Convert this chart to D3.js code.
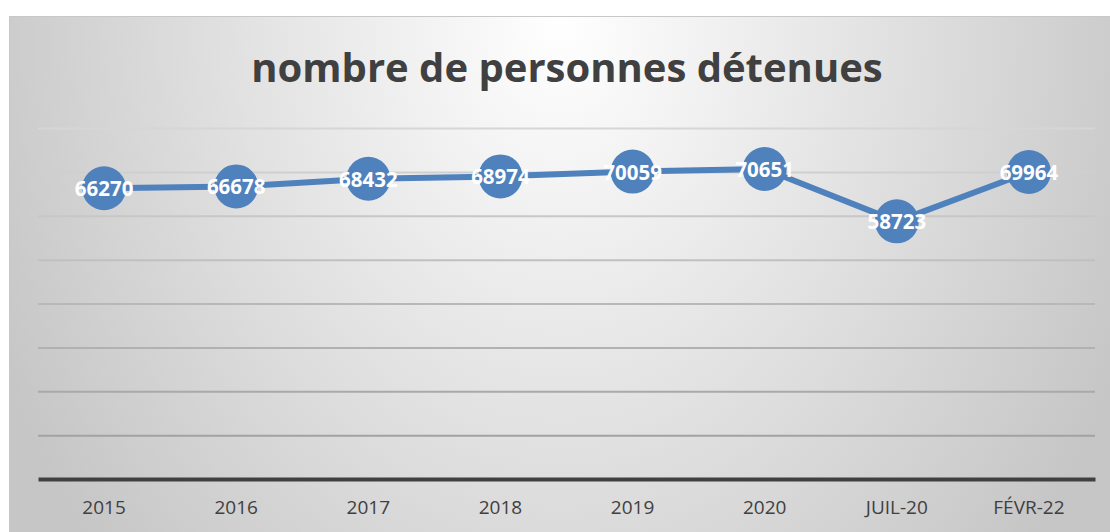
<!DOCTYPE html>
<html>
<head>
<meta charset="utf-8">
<script src="https://cdn.jsdelivr.net/npm/d3@7"></script>
<style>
  body { margin: 0; background: #fff; }
  svg { display: block; }
</style>
</head>
<body>
<svg id="viz" width="1110" height="532"></svg>
<script>
var categories = ["2015", "2016", "2017", "2018", "2019", "2020", "JUIL-20", "FÉVR-22"];
var detenus = [66270, 66678, 68432, 68974, 70059, 70651, 58723, 69964];
var yTicks = [0, 10000, 20000, 30000, 40000, 50000, 60000, 70000, 80000];
var title = "nombre de personnes détenues";

var margins = {top: 128, right: 15, bottom: 53, left: 38};

var svg = d3.select("#viz"),
    W = +svg.attr("width"),
    H = +svg.attr("height"),
    width = W - margins.left - margins.right,
    height = H - margins.top - margins.bottom;

// background gradient (white at top centre, grey towards the sides)
var defs = svg.append("defs");
var bg = defs.append("radialGradient")
  .attr("id", "bgGrad")
  .attr("gradientUnits", "userSpaceOnUse")
  .attr("cx", 0).attr("cy", 0).attr("r", 1)
  .attr("gradientTransform", "translate(560,20) scale(620,800)");
bg.append("stop").attr("offset", "0%").attr("stop-color", "#ffffff");
bg.append("stop").attr("offset", "100%").attr("stop-color", "#c6c6c6");

svg.append("rect")
  .attr("x", 9).attr("y", 16)
  .attr("width", W - 9).attr("height", H - 16)
  .attr("fill", "url(#bgGrad)");
svg.append("line")
  .attr("x1", 9).attr("x2", W).attr("y1", 16.5).attr("y2", 16.5)
  .style("stroke", "#c8c8c8").style("stroke-width", "1px");
svg.append("line")
  .attr("x1", 9.5).attr("x2", 9.5).attr("y1", 16).attr("y2", H)
  .style("stroke", "#c8c8c8").style("stroke-width", "1px");

svg.append("text")
  .attr("x", 567).attr("y", 82)
  .attr("text-anchor", "middle")
  .style("font-family", "'Open Sans', sans-serif")
  .style("font-weight", "bold")
  .style("font-size", "40px")
  .style("fill", "#404040")
  .text(title);

var g = svg.append("g").attr("transform", "translate(" + margins.left + "," + margins.top + ")");

var xScale = d3.scaleBand().domain(categories).range([0, width]);
var yScale = d3.scaleLinear().domain([0, 80000]).range([height, 0]);

var gridColor = d3.scaleLinear().domain([0, 80000]).range(["#9a9a9a", "#d6d6d6"]);

// gridlines
var grid = g.append("g")
  .attr("class", "grid")
  .call(d3.axisLeft(yScale).tickValues(yTicks.slice(1)).tickSize(-width).tickFormat(""));
grid.select(".domain").remove();
grid.selectAll(".tick line")
  .style("stroke", function(d) { return gridColor(d); })
  .style("stroke-width", "2px");

// x axis
var xAxis = g.append("g")
  .attr("transform", "translate(0," + height + ")")
  .call(d3.axisBottom(xScale).tickSize(0).tickPadding(22));
xAxis.select(".domain").style("stroke", "#404040").style("stroke-width", "4px");
xAxis.selectAll("text")
  .style("font-family", "'Open Sans', sans-serif")
  .style("font-size", "19px")
  .style("fill", "#404040");

var cx = function(d, i) { return xScale(categories[i]) + xScale.bandwidth() / 2; };

var line = d3.line()
  .x(function(d, i) { return cx(d, i); })
  .y(function(d) { return yScale(d); });

g.append("path")
  .datum(detenus)
  .attr("d", line)
  .style("fill", "none")
  .style("stroke", "#4f81bd")
  .style("stroke-width", "6px")
  .style("stroke-linejoin", "round");

g.selectAll(".dot")
  .data(detenus)
  .enter().append("circle")
  .attr("class", "dot")
  .attr("cx", cx)
  .attr("cy", function(d) { return yScale(d); })
  .attr("r", 22)
  .style("fill", "#4f81bd");

g.selectAll(".lbl")
  .data(detenus)
  .enter().append("text")
  .attr("class", "lbl")
  .attr("x", cx)
  .attr("y", function(d) { return yScale(d) + 8; })
  .attr("text-anchor", "middle")
  .style("font-family", "'Open Sans', sans-serif")
  .style("font-weight", "bold")
  .style("font-size", "20.5px")
  .style("fill", "#ffffff")
  .text(function(d) { return d; });
</script>
</body>
</html>
